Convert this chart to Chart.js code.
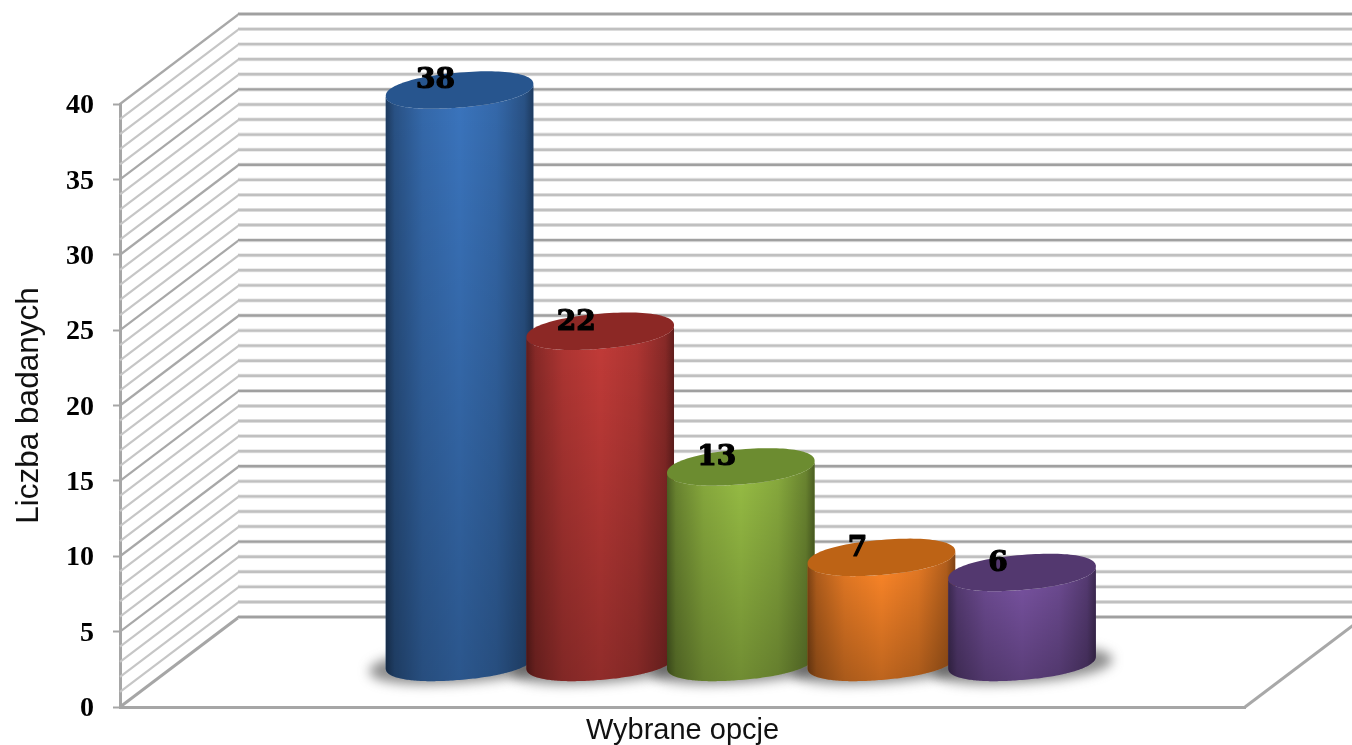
<!DOCTYPE html>
<html><head><meta charset="utf-8">
<style>html,body{margin:0;padding:0;background:#fff}canvas{display:block}</style>
<script src="https://cdn.jsdelivr.net/npm/chart.js@4/dist/chart.umd.min.js"></script>
</head><body><canvas id="c" width="1352" height="745"></canvas>
<script>
const categories = ["Wybrane opcje"];
const seriesValues = [38, 22, 13, 7, 6];
const yTickStep = 5;
const yMax = 40;
const xTitle = "Wybrane opcje";
const yTitle = "Liczba badanych";
const sideColors = ["#3a74bd", "#c23b38", "#97bd44", "#ff8728", "#7953a2"];
const topColors = ["#27558e", "#8c2825", "#6c8c30", "#bd6315", "#53386f"];

const DX = 119, DY = 90, F = 0.49, WF = 1.05;
const TILT = -6, RY = 17.5, PW = 0.92;

function spow(v) { return Math.sign(v) * Math.pow(Math.abs(v), PW); }
function ellPt(cx, cy, rx, t) {
  const c = spow(Math.cos(t)), s = spow(Math.sin(t));
  return [cx + rx * c, cy + TILT * c + RY * s];
}
function ellPath(ctx, cx, cy, rx, from, to, move) {
  const n = 120;
  for (let i = 0; i <= n; i++) {
    const t = from + (to - from) * i / n;
    const p = ellPt(cx, cy, rx, t);
    if (i === 0 && move) ctx.moveTo(p[0], p[1]); else ctx.lineTo(p[0], p[1]);
  }
}
function line(ctx, x1, y1, x2, y2, color, w) {
  ctx.strokeStyle = color; ctx.lineWidth = w;
  ctx.beginPath(); ctx.moveTo(x1, y1); ctx.lineTo(x2, y2); ctx.stroke();
}
const cyl = {
  id: 'cyl',
  beforeDatasetDraw() { return false; },
  beforeDatasetsDraw(chart) {
    const ctx = chart.ctx, y = chart.scales.y, x = chart.scales.x;
    const W = chart.width;
    ctx.save();
    ctx.lineCap = 'butt'; ctx.lineJoin = 'round';
    line(ctx, x.right, y.bottom, x.right + DX, y.bottom - DY, '#a8a8a8', 3);
    for (let v = 1; v <= yMax; v++) {
      const p = y.getPixelForValue(v), major = v % yTickStep === 0;
      line(ctx, y.right, p, y.right + DX, p - DY, major ? '#a8a8a8' : '#c6c6c6', 2.2);
    }
    line(ctx, y.right, y.bottom, y.right + DX, y.bottom - DY, '#a6a6a6', 3);
    for (let v = 0; v <= yMax; v++) {
      const p = y.getPixelForValue(v) - DY, major = v % yTickStep === 0;
      line(ctx, y.right + DX - 1, p, W, p, major ? '#e2e2e2' : '#e6e6e6', 4);
      line(ctx, y.right + DX - 1, p, W, p, major ? '#a0a0a0' : '#c0c0c0', 2.4);
    }
    const metas = chart.getSortedVisibleDatasetMetas();
    const els = metas.map(m => m.data[0]);
    els.forEach(el => {
      const cx = el.x + DX * F, by = el.base - DY * F, rx = el.width * WF / 2;
      ctx.save();
      ctx.filter = 'blur(6px)';
      ctx.fillStyle = 'rgba(70,70,70,0.62)';
      ctx.beginPath();
      ellPath(ctx, cx, by + 3, rx * 1.22, 0, Math.PI * 2, true);
      ctx.closePath(); ctx.fill();
      ctx.restore();
    });
    els.forEach((el, i) => {
      const cx = el.x + DX * F, by = el.base - DY * F, ty = el.y - DY * F, rx = el.width * WF / 2;
      ctx.beginPath();
      ellPath(ctx, cx, ty, rx, Math.PI, 0, true);
      ellPath(ctx, cx, by, rx, 0, Math.PI, false);
      ctx.closePath();
      ctx.fillStyle = sideColors[i]; ctx.fill();
      const g = ctx.createLinearGradient(cx - rx, 0, cx + rx, 0);
      g.addColorStop(0, 'rgba(0,0,0,0.5)');
      g.addColorStop(0.06, 'rgba(0,0,0,0.3)');
      g.addColorStop(0.25, 'rgba(0,0,0,0.1)');
      g.addColorStop(0.5, 'rgba(0,0,0,0)');
      g.addColorStop(0.75, 'rgba(0,0,0,0.1)');
      g.addColorStop(0.94, 'rgba(0,0,0,0.3)');
      g.addColorStop(1, 'rgba(0,0,0,0.5)');
      ctx.fillStyle = g; ctx.fill();
      const s = ctx.createLinearGradient(0, ty, 0, by + RY);
      s.addColorStop(0, 'rgba(0,0,0,0)');
      s.addColorStop(1, 'rgba(0,0,0,0.26)');
      ctx.fillStyle = s; ctx.fill();
      ctx.beginPath();
      ellPath(ctx, cx, ty, rx, 0, Math.PI * 2, true);
      ctx.closePath();
      ctx.fillStyle = topColors[i]; ctx.fill();
    });
    ctx.restore();
  },
  afterDatasetsDraw(chart) {
    const ctx = chart.ctx;
    ctx.save();
    ctx.fillStyle = '#000'; ctx.strokeStyle = '#000'; ctx.lineWidth = 1.2; ctx.lineJoin = 'round';
    ctx.font = 'bold 28px "DejaVu Serif"';
    ctx.textAlign = 'center'; ctx.textBaseline = 'middle';
    chart.getSortedVisibleDatasetMetas().forEach((m, i) => {
      const el = m.data[0];
      const tx = el.x + DX * F - 24, ty = el.y - DY * F - 9;
      ctx.fillText(String(seriesValues[i]), tx, ty);
      ctx.strokeText(String(seriesValues[i]), tx, ty);
    });
    ctx.restore();
  }
};
new Chart(document.getElementById('c'), {
  type: 'bar',
  data: {
    labels: categories,
    datasets: seriesValues.map((v, i) => ({ label: String(v), data: [v], backgroundColor: sideColors[i], categoryPercentage: 0.625, barPercentage: 1 }))
  },
  options: {
    responsive: false, animation: false,
    layout: { padding: { top: 104, right: 107, left: 0, bottom: 0 } },
    plugins: { legend: { display: false }, tooltip: { enabled: false } },
    scales: {
      x: {
        afterFit(s) { s.height = 38; },
        ticks: { display: false },
        grid: { display: false, drawTicks: false },
        border: { display: true, color: '#a6a6a6', width: 3 },
        title: { display: true, text: xTitle, color: '#111', font: { family: '"Liberation Sans"', size: 29 }, padding: { top: 3, bottom: -3 } }
      },
      y: {
        min: 0, max: yMax,
        afterFit(s) { s.width = 120; },
        ticks: { stepSize: yTickStep, color: '#000', padding: 19, labelOffset: 2, font: { family: '"Liberation Serif"', size: 28, weight: 'bold' } },
        grid: { drawOnChartArea: false, drawTicks: true, tickLength: 7, tickColor: '#a6a6a6', tickWidth: 2 },
        border: { display: true, color: '#a6a6a6', width: 3 },
        title: { display: true, text: yTitle, color: '#111', font: { family: '"Liberation Sans"', size: 31.5 }, padding: { top: 10, bottom: 0 } }
      }
    }
  },
  plugins: [cyl]
});
</script></body></html>
